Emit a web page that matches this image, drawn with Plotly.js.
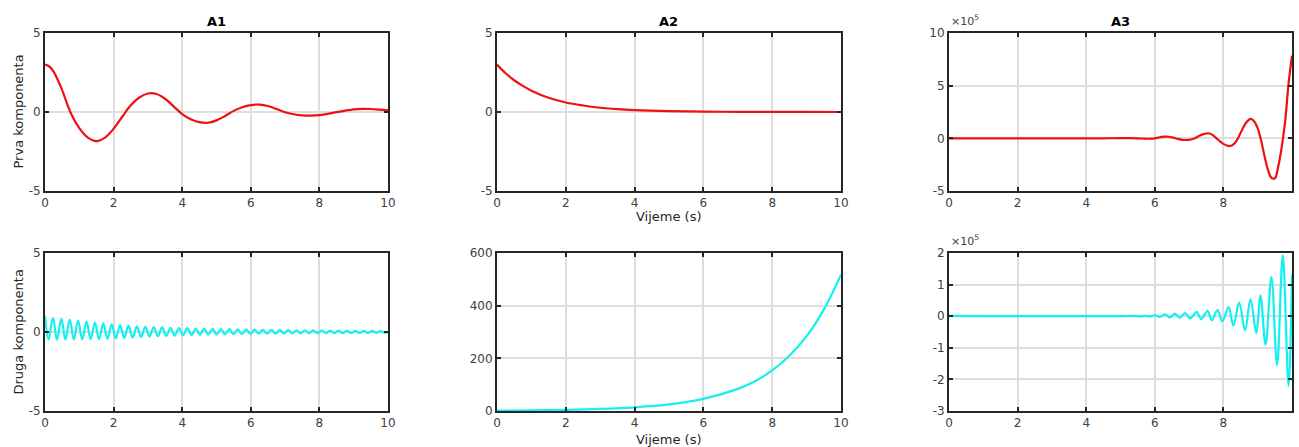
<!DOCTYPE html>
<html>
<head>
<meta charset="utf-8">
<script src="https://cdn.plot.ly/plotly-3.0.1.min.js"></script>
<style>html,body{margin:0;padding:0;background:#fff;}#chart{width:1299px;height:447px;}</style>
</head>
<body>
<div id="chart"></div>
<script>
// ---- data ----
const panelTitles = ['A1', 'A2', 'A3'];
const rowTitles = ['Prva komponenta', 'Druga komponenta'];
const xTitle = 'Vijeme (s)';
const xTicks = [0, 2, 4, 6, 8, 10];
const xTickText = ['0', '2', '4', '6', '8', '10'];

// A1 - first component (damped oscillation)
const a1TopT = [0, 0.125, 0.25, 0.375, 0.5, 0.75, 1, 1.25, 1.5, 1.75, 2, 2.25, 2.5, 2.75, 3, 3.25, 3.5, 3.75, 4, 4.25, 4.5, 4.75,
  5, 5.25, 5.5, 5.75, 6, 6.25, 6.5, 6.75, 7, 7.25, 7.5, 7.75, 8, 8.25, 8.5, 8.75, 9, 9.25, 9.5, 9.75, 10];
const a1TopY = [3.0, 2.88, 2.55, 2.02, 1.38, -0.06, -1.02, -1.62, -1.84, -1.62, -1.06, -0.30, 0.42, 0.92, 1.17, 1.14, 0.84, 0.36, -0.13, -0.46, -0.64, -0.68,
  -0.53, -0.25, 0.07, 0.30, 0.44, 0.47, 0.38, 0.19, -0.02, -0.14, -0.21, -0.23, -0.20, -0.12, -0.01, 0.09, 0.17, 0.20, 0.19, 0.15, 0.1];

// A1 - second component (fast damped oscillation, extremes)
const a1BotT = [0,
  0.105, 0.23, 0.35, 0.475, 0.595, 0.72, 0.84, 0.965, 1.085, 1.21,
  1.33, 1.455, 1.575, 1.70, 1.82, 1.945, 2.065, 2.19, 2.31, 2.435,
  2.555, 2.68, 2.8, 2.925, 3.045, 3.17, 3.29, 3.415, 3.535, 3.66,
  3.78, 3.905, 4.025, 4.15, 4.27, 4.395, 4.515, 4.64, 4.76, 4.885,
  5.005, 5.13, 5.25, 5.375, 5.495, 5.62, 5.74, 5.865, 5.985, 6.11,
  6.23, 6.355, 6.475, 6.6, 6.72, 6.845, 6.965, 7.09, 7.21, 7.335,
  7.455, 7.58, 7.7, 7.825, 7.945, 8.07, 8.19, 8.315, 8.435, 8.56,
  8.68, 8.805, 8.925, 9.05, 9.17, 9.295, 9.415, 9.54, 9.66, 9.785,
  9.905, 10];
const a1BotY = [1.0,
  -0.48, 0.90, -0.50, 0.85, -0.49, 0.78, -0.48, 0.72, -0.47, 0.66,
  -0.46, 0.60, -0.45, 0.54, -0.43, 0.48, -0.41, 0.44, -0.38, 0.40,
  -0.35, 0.36, -0.32, 0.33, -0.29, 0.31, -0.27, 0.29, -0.25, 0.27,
  -0.23, 0.25, -0.21, 0.24, -0.19, 0.22, -0.18, 0.21, -0.17, 0.20,
  -0.16, 0.19, -0.15, 0.18, -0.14, 0.17, -0.13, 0.16, -0.12, 0.15,
  -0.11, 0.14, -0.11, 0.13, -0.10, 0.13, -0.10, 0.12, -0.09, 0.11,
  -0.09, 0.11, -0.08, 0.10, -0.08, 0.10, -0.07, 0.09, -0.07, 0.09,
  -0.07, 0.08, -0.06, 0.08, -0.06, 0.07, -0.06, 0.07, -0.05, 0.06,
  -0.05, 0.0];

// A2
const a2TopT = [0, 0.25, 0.5, 0.75, 1, 1.5, 2, 2.5, 3, 3.5, 4, 5, 6, 7, 8, 9, 10];
const a2TopY = [3.0, 2.45, 2.01, 1.65, 1.35, 0.9, 0.6, 0.41, 0.27, 0.18, 0.12, 0.055, 0.025, 0.01, 0.005, 0.002, 0.0];
const a2BotT = [0, 1, 2, 3, 4, 5, 6, 7, 7.5, 8, 8.5, 9, 9.5, 10];
const a2BotY = [1.5, 2.5, 4.5, 8, 14, 25, 46, 84, 113, 154, 210, 284, 385, 518];

// A3 (values in units of 10^5)
const a3TopT = [0, 1, 2, 3, 4, 4.5, 5.0, 5.25, 5.5, 5.7, 5.8, 5.9, 6.0, 6.1, 6.2, 6.3, 6.4, 6.5, 6.6, 6.7, 6.8, 6.9,
  7.0, 7.1, 7.2, 7.3, 7.4, 7.5, 7.6, 7.7, 7.8, 7.9, 8.0, 8.1, 8.2, 8.3, 8.4, 8.5, 8.6, 8.7, 8.8, 8.9,
  9.0, 9.1, 9.2, 9.3, 9.4, 9.5, 9.6, 9.7, 9.8, 9.9, 10];
const a3TopY = [0, 0, 0, 0, 0, 0, 0.02, 0.02, 0.0, -0.03, -0.04, -0.03, 0.0, 0.07, 0.13, 0.16, 0.15, 0.09, 0.01, -0.08, -0.14, -0.16,
  -0.145, -0.07, 0.06, 0.235, 0.376, 0.456, 0.454, 0.286, 0.0, -0.286, -0.526, -0.683, -0.73, -0.549, -0.143, 0.51, 1.16, 1.63, 1.84, 1.6,
  0.95, -0.2, -1.7, -3.0, -3.75, -3.8, -2.65, -0.85, 1.6, 5.2, 7.85];
const a3BotT = [0, 1, 2, 3, 4, 5, 5.43, 5.57, 5.72, 5.86, 6.01, 6.15, 6.30, 6.44, 6.59, 6.73, 6.88, 7.03, 7.22, 7.35, 7.54, 7.66, 7.83, 7.97, 8.15, 8.29, 8.46, 8.63, 8.79, 8.96, 9.08, 9.23, 9.40, 9.565, 9.73, 9.90, 10];
const a3BotY = [0.01, 0, 0, 0, 0, 0, 0.01, -0.01, 0.015, -0.01, 0.03, -0.02, 0.06, -0.04, 0.08, -0.05, 0.10, -0.07, 0.13, -0.09, 0.17, -0.13, 0.19, -0.16, 0.29, -0.30, 0.43, -0.45, 0.53, -0.54, 0.66, -0.90, 1.24, -1.55, 1.93, -2.20, 1.32];

// y tick labels
const yTicksA12Top = [-5, 0, 5];      const yTextA12Top = ['-5', '0', '5'];
const yTicksA3Top = [-5, 0, 5, 10];   const yTextA3Top = ['-5', '0', '5', '10'];
const yTicksA2Bot = [0, 200, 400, 600]; const yTextA2Bot = ['0', '200', '400', '600'];
const yTicksA3Bot = [-3, -2, -1, 0, 1, 2]; const yTextA3Bot = ['-3', '-2', '-1', '0', '1', '2'];
const exponentLabel = '×10<sup>5</sup>';

// ---- layout geometry (pixels) ----
const W = 1299, H = 447;
const cols = [[45, 388], [497, 841], [949, 1292]];
const rows = [[33, 191], [253, 411]];
const px = v => v / W;
const py = v => 1 - v / H;

const RED = '#ee1111';
const CYAN = '#14f0f0';

function common() {
  return {
    showline: true, mirror: 'ticks', linecolor: '#262626', linewidth: 2,
    ticks: 'inside', ticklen: 4, tickwidth: 2, tickcolor: '#262626',
    showgrid: true, gridcolor: '#dedede', gridwidth: 2, zeroline: false,
    tickfont: {size: 12, color: '#404040', family: 'DejaVu Sans'},
    fixedrange: true
  };
}
function xax(col, anchor) {
  return Object.assign(common(), {
    domain: [px(cols[col][0]), px(cols[col][1])],
    range: [0, 10], tickvals: xTicks, ticktext: xTickText, anchor: anchor
  });
}
function yax(row, range, vals, text, anchor) {
  return Object.assign(common(), {
    domain: [py(rows[row][1]), py(rows[row][0])],
    range: range, tickvals: vals, ticktext: text, anchor: anchor
  });
}

function tr(x, y, color, xa, ya) {
  return {x: x, y: y, type: 'scatter', mode: 'lines', xaxis: xa, yaxis: ya,
          line: {color: color, width: 2.2, shape: 'spline', smoothing: 1}, hoverinfo: 'skip'};
}

const data = [
  tr(a1TopT, a1TopY, RED, 'x', 'y'),
  tr(a2TopT, a2TopY, RED, 'x2', 'y2'),
  tr(a3TopT, a3TopY, RED, 'x3', 'y3'),
  tr(a1BotT, a1BotY, CYAN, 'x4', 'y4'),
  tr(a2BotT, a2BotY, CYAN, 'x5', 'y5'),
  tr(a3BotT, a3BotY, CYAN, 'x6', 'y6')
];

const ann = [];
panelTitles.forEach((t, i) => {
  ann.push({text: '<b>' + t + '</b>', x: px((cols[i][0] + cols[i][1]) / 2), y: py(21),
    xref: 'paper', yref: 'paper', xanchor: 'center', yanchor: 'middle', showarrow: false,
    font: {size: 13, color: '#000000', family: 'DejaVu Sans'}});
});
rowTitles.forEach((t, i) => {
  ann.push({text: t, textangle: -90, x: px(17.5), y: py((rows[i][0] + rows[i][1]) / 2),
    xref: 'paper', yref: 'paper', xanchor: 'center', yanchor: 'middle', showarrow: false,
    font: {size: 13, color: '#262626', family: 'DejaVu Sans'}});
});
[216, 439].forEach(yy => {
  ann.push({text: xTitle, x: px((cols[1][0] + cols[1][1]) / 2), y: py(yy),
    xref: 'paper', yref: 'paper', xanchor: 'center', yanchor: 'middle', showarrow: false,
    font: {size: 13, color: '#262626', family: 'DejaVu Sans'}});
});
[rows[0][0], rows[1][0]].forEach(top => {
  ann.push({text: exponentLabel, x: px(cols[2][0]), y: py(top - 3),
    xref: 'paper', yref: 'paper', xanchor: 'left', yanchor: 'bottom', showarrow: false,
    font: {size: 11, color: '#404040', family: 'DejaVu Sans'}});
});

const layout = {
  width: W, height: H, margin: {l: 0, r: 0, t: 0, b: 0},
  paper_bgcolor: '#ffffff', plot_bgcolor: '#ffffff', showlegend: false,
  font: {family: 'DejaVu Sans', size: 12, color: '#262626'},
  xaxis: xax(0, 'y'), yaxis: yax(0, [-5, 5], yTicksA12Top, yTextA12Top, 'x'),
  xaxis2: xax(1, 'y2'), yaxis2: yax(0, [-5, 5], yTicksA12Top, yTextA12Top, 'x2'),
  xaxis3: xax(2, 'y3'), yaxis3: yax(0, [-5, 10], yTicksA3Top, yTextA3Top, 'x3'),
  xaxis4: xax(0, 'y4'), yaxis4: yax(1, [-5, 5], yTicksA12Top, yTextA12Top, 'x4'),
  xaxis5: xax(1, 'y5'), yaxis5: yax(1, [0, 600], yTicksA2Bot, yTextA2Bot, 'x5'),
  xaxis6: xax(2, 'y6'), yaxis6: yax(1, [-3, 2], yTicksA3Bot, yTextA3Bot, 'x6'),
  annotations: ann
};

Plotly.newPlot('chart', data, layout, {displayModeBar: false, staticPlot: true});
</script>
</body>
</html>
